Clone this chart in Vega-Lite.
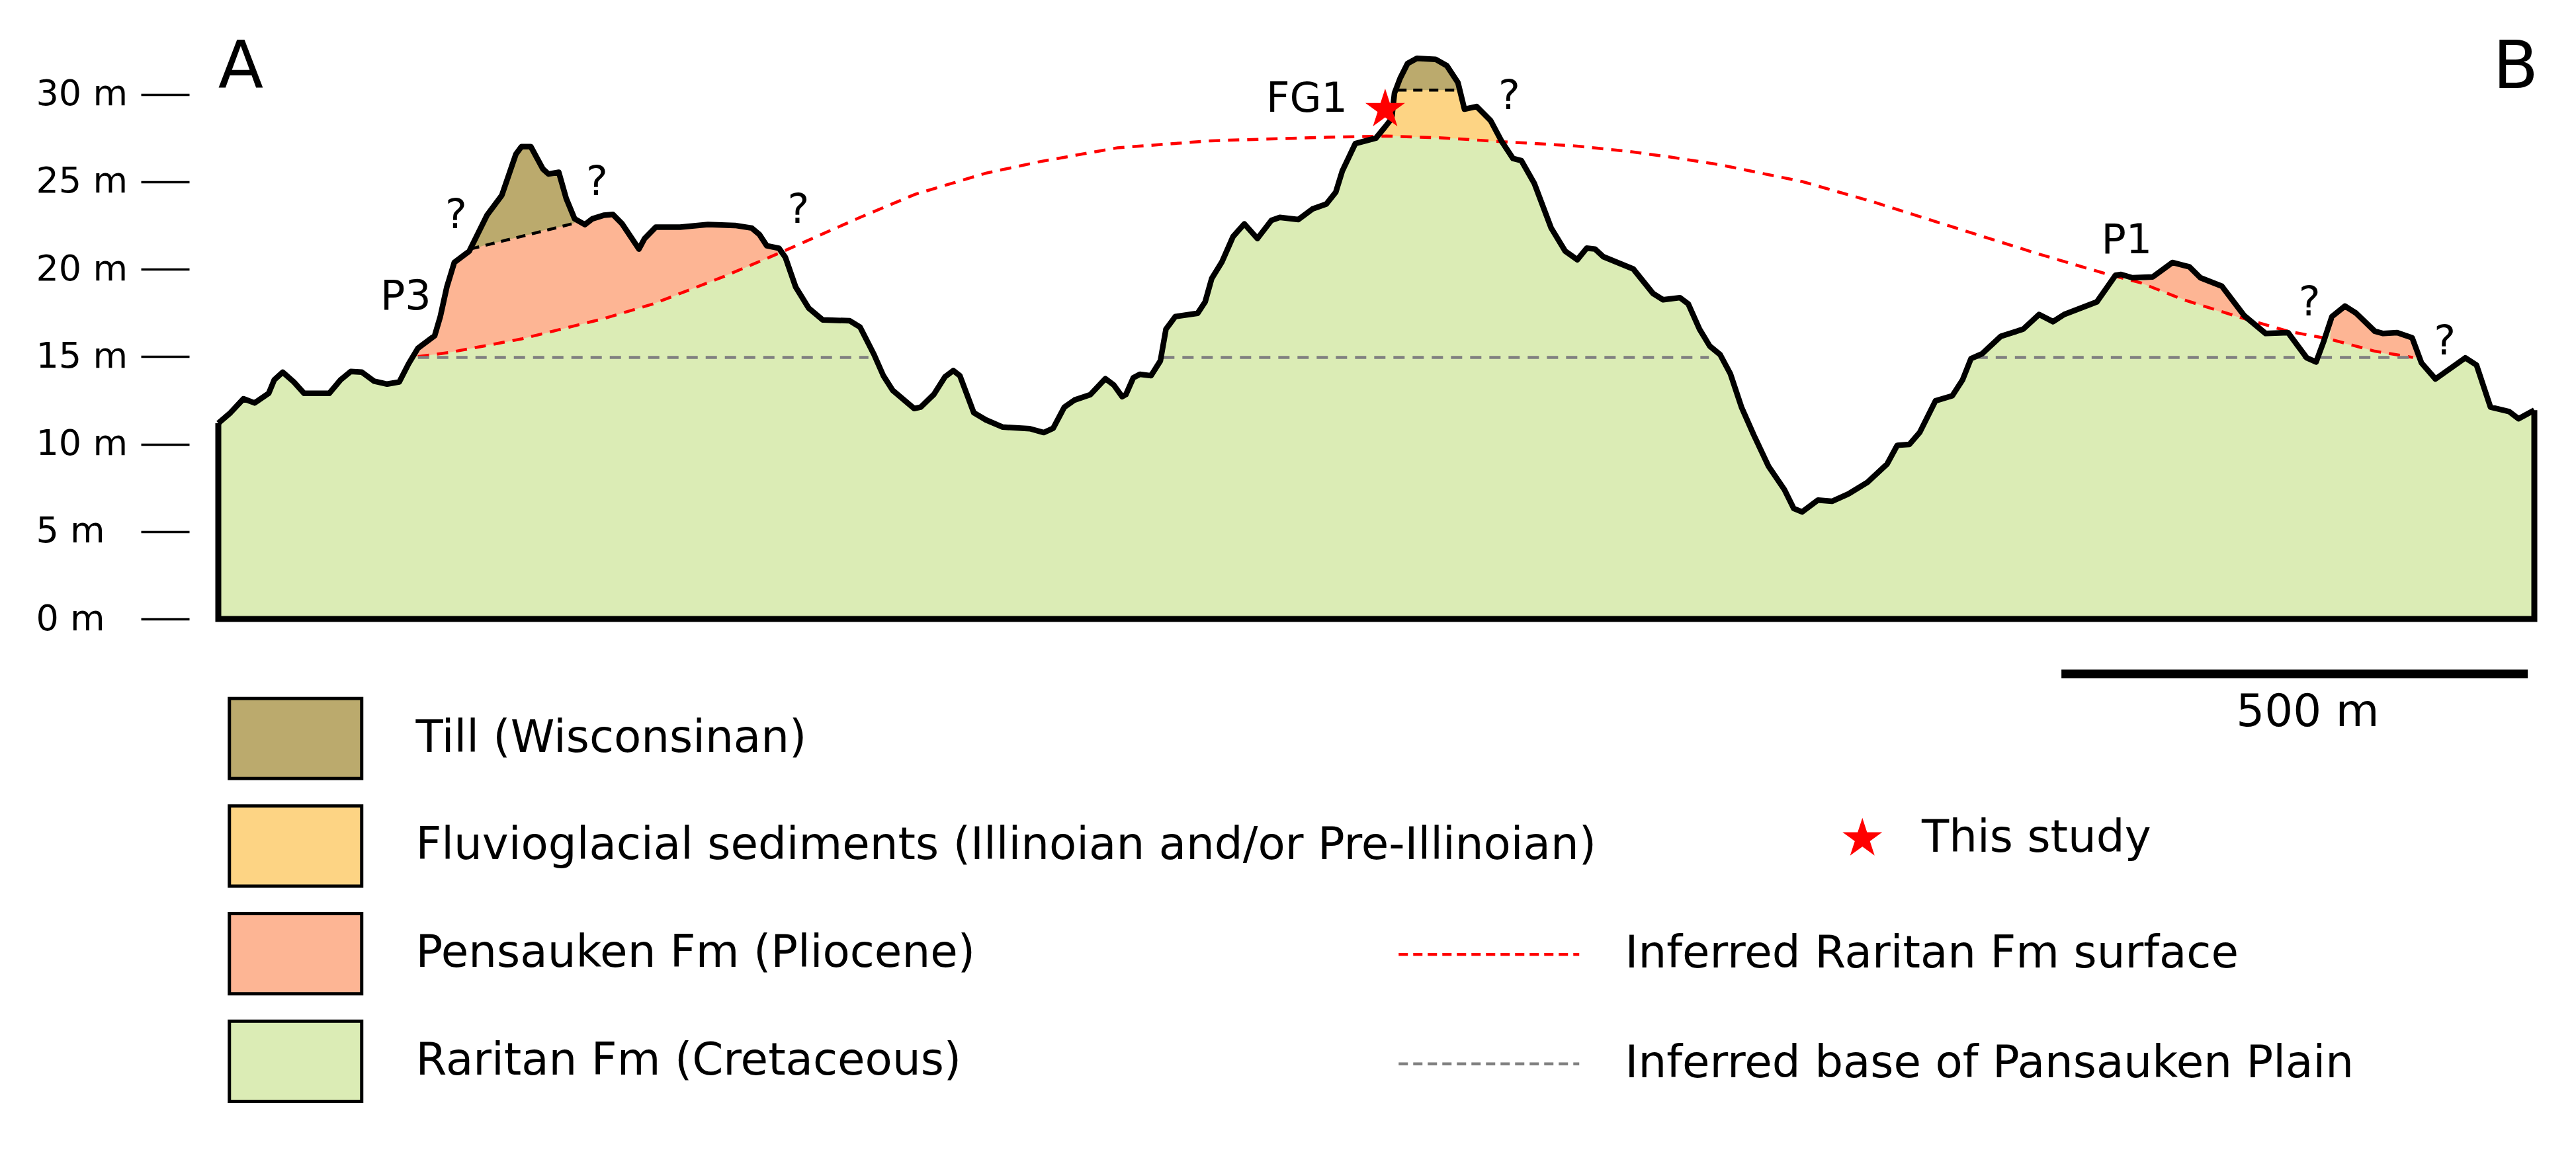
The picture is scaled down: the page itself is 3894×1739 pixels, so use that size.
{"$schema":"https://vega.github.io/schema/vega-lite/v6.json","width":3501,"height":936,"autosize":{"type":"none"},"padding":{"left":330,"top":0,"right":63,"bottom":803},"background":"white","config":{"view":{"stroke":null},"font":"DejaVu Sans"},
"datasets":{
"profile":[{"d":0,"z":11.19},{"d":13,"z":11.79},{"d":27,"z":12.59},{"d":39,"z":12.35},{"d":54,"z":12.9},{"d":60,"z":13.67},{"d":69,"z":14.11},{"d":81,"z":13.55},{"d":92,"z":12.9},{"d":119,"z":12.9},{"d":131,"z":13.67},{"d":142,"z":14.15},{"d":154,"z":14.11},{"d":167,"z":13.6},{"d":181,"z":13.43},{"d":194,"z":13.55},{"d":204,"z":14.59},{"d":214,"z":15.48},{"d":232,"z":16.2},{"d":238,"z":17.29},{"d":245,"z":18.98},{"d":253,"z":20.38},{"d":269,"z":21.03},{"d":288,"z":23.08},{"d":304,"z":24.23},{"d":319,"z":26.57},{"d":325,"z":27.01},{"d":335,"z":27.01},{"d":348,"z":25.73},{"d":354,"z":25.44},{"d":365,"z":25.54},{"d":373,"z":24.04},{"d":382,"z":22.88},{"d":393,"z":22.55},{"d":401,"z":22.88},{"d":413,"z":23.08},{"d":423,"z":23.13},{"d":433,"z":22.59},{"d":451,"z":21.15},{"d":457,"z":21.75},{"d":469,"z":22.4},{"d":495,"z":22.4},{"d":525,"z":22.55},{"d":554,"z":22.5},{"d":572,"z":22.35},{"d":580,"z":21.99},{"d":588,"z":21.34},{"d":601,"z":21.2},{"d":608,"z":20.67},{"d":619,"z":18.98},{"d":633,"z":17.77},{"d":648,"z":17.1},{"d":677,"z":17.05},{"d":688,"z":16.69},{"d":703,"z":15.12},{"d":713,"z":13.91},{"d":723,"z":13.07},{"d":746,"z":12.03},{"d":753,"z":12.11},{"d":767,"z":12.83},{"d":779,"z":13.84},{"d":788,"z":14.2},{"d":795,"z":13.91},{"d":810,"z":11.79},{"d":823,"z":11.38},{"d":841,"z":10.97},{"d":870,"z":10.88},{"d":885,"z":10.66},{"d":895,"z":10.9},{"d":907,"z":12.11},{"d":918,"z":12.52},{"d":935,"z":12.83},{"d":951,"z":13.74},{"d":960,"z":13.38},{"d":969,"z":12.71},{"d":973,"z":12.83},{"d":981,"z":13.79},{"d":988,"z":13.99},{"d":1000,"z":13.91},{"d":1010,"z":14.76},{"d":1016,"z":16.57},{"d":1026,"z":17.29},{"d":1050,"z":17.48},{"d":1058,"z":18.13},{"d":1065,"z":19.46},{"d":1076,"z":20.42},{"d":1088,"z":21.87},{"d":1100,"z":22.59},{"d":1114,"z":21.75},{"d":1129,"z":22.79},{"d":1138,"z":22.96},{"d":1158,"z":22.84},{"d":1173,"z":23.44},{"d":1188,"z":23.73},{"d":1198,"z":24.4},{"d":1205,"z":25.61},{"d":1219,"z":27.18},{"d":1241,"z":27.49},{"d":1251,"z":28.14},{"d":1258,"z":28.62},{"d":1261,"z":30.07},{"d":1267,"z":30.91},{"d":1275,"z":31.76},{"d":1285,"z":32.05},{"d":1305,"z":32},{"d":1317,"z":31.64},{"d":1329,"z":30.67},{"d":1336,"z":29.15},{"d":1349,"z":29.3},{"d":1364,"z":28.5},{"d":1376,"z":27.3},{"d":1388,"z":26.33},{"d":1397,"z":26.21},{"d":1411,"z":24.89},{"d":1429,"z":22.35},{"d":1444,"z":21.03},{"d":1457,"z":20.54},{"d":1467,"z":21.2},{"d":1476,"z":21.15},{"d":1485,"z":20.71},{"d":1517,"z":20.01},{"d":1538,"z":18.62},{"d":1549,"z":18.25},{"d":1567,"z":18.37},{"d":1576,"z":18.01},{"d":1588,"z":16.57},{"d":1599,"z":15.6},{"d":1610,"z":15.12},{"d":1621,"z":14.03},{"d":1633,"z":12.11},{"d":1646,"z":10.54},{"d":1662,"z":8.73},{"d":1679,"z":7.4},{"d":1689,"z":6.32},{"d":1698,"z":6.12},{"d":1715,"z":6.8},{"d":1730,"z":6.73},{"d":1748,"z":7.16},{"d":1768,"z":7.81},{"d":1789,"z":8.85},{"d":1800,"z":9.93},{"d":1813,"z":9.98},{"d":1824,"z":10.66},{"d":1841,"z":12.47},{"d":1859,"z":12.76},{"d":1870,"z":13.67},{"d":1879,"z":14.88},{"d":1891,"z":15.17},{"d":1911,"z":16.16},{"d":1935,"z":16.57},{"d":1952,"z":17.41},{"d":1967,"z":17},{"d":1979,"z":17.41},{"d":2014,"z":18.13},{"d":2034,"z":19.65},{"d":2040,"z":19.7},{"d":2052,"z":19.51},{"d":2074,"z":19.56},{"d":2095,"z":20.38},{"d":2113,"z":20.14},{"d":2125,"z":19.51},{"d":2148,"z":19.03},{"d":2172,"z":17.34},{"d":2195,"z":16.32},{"d":2219,"z":16.37},{"d":2239,"z":14.93},{"d":2249,"z":14.69},{"d":2257,"z":15.84},{"d":2266,"z":17.29},{"d":2280,"z":17.89},{"d":2292,"z":17.48},{"d":2312,"z":16.45},{"d":2321,"z":16.32},{"d":2336,"z":16.37},{"d":2352,"z":16.08},{"d":2362,"z":14.64},{"d":2377,"z":13.72},{"d":2409,"z":14.93},{"d":2421,"z":14.52},{"d":2436,"z":12.11},{"d":2456,"z":11.86},{"d":2466,"z":11.45},{"d":2483,"z":11.94}],
"frame":[{"i":0,"d":0,"z":11.19},{"i":1,"d":0,"z":0},{"i":2,"d":2483,"z":0},{"i":3,"d":2483,"z":11.94}],
"units":[
{"f":"Pensauken Fm (Pliocene)","seg":"a","d":212,"top":15,"base":15},{"f":"Pensauken Fm (Pliocene)","seg":"a","d":214,"top":15.48,"base":15},{"f":"Pensauken Fm (Pliocene)","seg":"a","d":232,"top":16.2,"base":15.12},{"f":"Pensauken Fm (Pliocene)","seg":"a","d":238,"top":17.29,"base":15.17},{"f":"Pensauken Fm (Pliocene)","seg":"a","d":245,"top":18.98,"base":15.22},{"f":"Pensauken Fm (Pliocene)","seg":"a","d":253,"top":20.38,"base":15.29},{"f":"Pensauken Fm (Pliocene)","seg":"a","d":269,"top":21.03,"base":15.45},{"f":"Pensauken Fm (Pliocene)","seg":"a","d":288,"top":23.08,"base":15.64},{"f":"Pensauken Fm (Pliocene)","seg":"a","d":304,"top":24.23,"base":15.8},{"f":"Pensauken Fm (Pliocene)","seg":"a","d":325,"top":27.01,"base":16.01},{"f":"Pensauken Fm (Pliocene)","seg":"a","d":348,"top":25.73,"base":16.31},{"f":"Pensauken Fm (Pliocene)","seg":"a","d":373,"top":24.04,"base":16.64},{"f":"Pensauken Fm (Pliocene)","seg":"a","d":382,"top":22.88,"base":16.76},{"f":"Pensauken Fm (Pliocene)","seg":"a","d":393,"top":22.55,"base":16.9},{"f":"Pensauken Fm (Pliocene)","seg":"a","d":401,"top":22.88,"base":17.01},{"f":"Pensauken Fm (Pliocene)","seg":"a","d":413,"top":23.08,"base":17.17},{"f":"Pensauken Fm (Pliocene)","seg":"a","d":423,"top":23.13,"base":17.33},{"f":"Pensauken Fm (Pliocene)","seg":"a","d":433,"top":22.59,"base":17.49},{"f":"Pensauken Fm (Pliocene)","seg":"a","d":451,"top":21.15,"base":17.77},{"f":"Pensauken Fm (Pliocene)","seg":"a","d":457,"top":21.75,"base":17.87},{"f":"Pensauken Fm (Pliocene)","seg":"a","d":469,"top":22.4,"base":18.07},{"f":"Pensauken Fm (Pliocene)","seg":"a","d":495,"top":22.4,"base":18.6},{"f":"Pensauken Fm (Pliocene)","seg":"a","d":525,"top":22.55,"base":19.23},{"f":"Pensauken Fm (Pliocene)","seg":"a","d":554,"top":22.5,"base":19.85},{"f":"Pensauken Fm (Pliocene)","seg":"a","d":572,"top":22.35,"base":20.25},{"f":"Pensauken Fm (Pliocene)","seg":"a","d":580,"top":21.99,"base":20.43},{"f":"Pensauken Fm (Pliocene)","seg":"a","d":588,"top":21.34,"base":20.62},{"f":"Pensauken Fm (Pliocene)","seg":"a","d":601,"top":21.2,"base":20.91},
{"f":"Pensauken Fm (Pliocene)","seg":"b","d":2061,"top":19.3,"base":19.22},{"f":"Pensauken Fm (Pliocene)","seg":"b","d":2074,"top":19.56,"base":18.95},{"f":"Pensauken Fm (Pliocene)","seg":"b","d":2095,"top":20.38,"base":18.5},{"f":"Pensauken Fm (Pliocene)","seg":"b","d":2113,"top":20.14,"base":18.16},{"f":"Pensauken Fm (Pliocene)","seg":"b","d":2125,"top":19.51,"base":17.95},{"f":"Pensauken Fm (Pliocene)","seg":"b","d":2148,"top":19.03,"base":17.53},{"f":"Pensauken Fm (Pliocene)","seg":"b","d":2172,"top":17.34,"base":17.17},
{"f":"Pensauken Fm (Pliocene)","seg":"c","d":2264,"top":16,"base":16},{"f":"Pensauken Fm (Pliocene)","seg":"c","d":2266,"top":17.29,"base":15.96},{"f":"Pensauken Fm (Pliocene)","seg":"c","d":2280,"top":17.89,"base":15.75},{"f":"Pensauken Fm (Pliocene)","seg":"c","d":2292,"top":17.48,"base":15.6},{"f":"Pensauken Fm (Pliocene)","seg":"c","d":2312,"top":16.45,"base":15.31},{"f":"Pensauken Fm (Pliocene)","seg":"c","d":2321,"top":16.32,"base":15.2},{"f":"Pensauken Fm (Pliocene)","seg":"c","d":2336,"top":16.37,"base":15.05},{"f":"Pensauken Fm (Pliocene)","seg":"c","d":2352,"top":16.08,"base":14.96},{"f":"Pensauken Fm (Pliocene)","seg":"c","d":2359,"top":15,"base":14.95},
{"f":"Fluvioglacial sediments (Illinoian and/or Pre-Illinoian)","seg":"d","d":1245,"top":27.6,"base":27.6},{"f":"Fluvioglacial sediments (Illinoian and/or Pre-Illinoian)","seg":"d","d":1251,"top":28.14,"base":27.61},{"f":"Fluvioglacial sediments (Illinoian and/or Pre-Illinoian)","seg":"d","d":1258,"top":28.62,"base":27.6},{"f":"Fluvioglacial sediments (Illinoian and/or Pre-Illinoian)","seg":"d","d":1261,"top":30.07,"base":27.6},{"f":"Fluvioglacial sediments (Illinoian and/or Pre-Illinoian)","seg":"d","d":1267,"top":30.91,"base":27.59},{"f":"Fluvioglacial sediments (Illinoian and/or Pre-Illinoian)","seg":"d","d":1329,"top":30.67,"base":27.47},{"f":"Fluvioglacial sediments (Illinoian and/or Pre-Illinoian)","seg":"d","d":1336,"top":29.15,"base":27.45},{"f":"Fluvioglacial sediments (Illinoian and/or Pre-Illinoian)","seg":"d","d":1349,"top":29.3,"base":27.4},{"f":"Fluvioglacial sediments (Illinoian and/or Pre-Illinoian)","seg":"d","d":1364,"top":28.5,"base":27.33},{"f":"Fluvioglacial sediments (Illinoian and/or Pre-Illinoian)","seg":"d","d":1376,"top":27.3,"base":27.3},
{"f":"Till (Wisconsinan)","seg":"e","d":269,"top":21.1,"base":21.1},{"f":"Till (Wisconsinan)","seg":"e","d":288,"top":23.08,"base":21.4},{"f":"Till (Wisconsinan)","seg":"e","d":304,"top":24.23,"base":21.6},{"f":"Till (Wisconsinan)","seg":"e","d":319,"top":26.57,"base":21.8},{"f":"Till (Wisconsinan)","seg":"e","d":325,"top":27.01,"base":21.9},{"f":"Till (Wisconsinan)","seg":"e","d":335,"top":27.01,"base":22},{"f":"Till (Wisconsinan)","seg":"e","d":348,"top":25.73,"base":22.2},{"f":"Till (Wisconsinan)","seg":"e","d":354,"top":25.44,"base":22.3},{"f":"Till (Wisconsinan)","seg":"e","d":365,"top":25.54,"base":22.4},{"f":"Till (Wisconsinan)","seg":"e","d":373,"top":24.04,"base":22.5},{"f":"Till (Wisconsinan)","seg":"e","d":382,"top":22.88,"base":22.64},
{"f":"Till (Wisconsinan)","seg":"f","d":1262,"top":30.24,"base":30.24},{"f":"Till (Wisconsinan)","seg":"f","d":1267,"top":30.91,"base":30.24},{"f":"Till (Wisconsinan)","seg":"f","d":1275,"top":31.76,"base":30.24},{"f":"Till (Wisconsinan)","seg":"f","d":1285,"top":32.05,"base":30.24},{"f":"Till (Wisconsinan)","seg":"f","d":1305,"top":32,"base":30.24},{"f":"Till (Wisconsinan)","seg":"f","d":1317,"top":31.64,"base":30.24},{"f":"Till (Wisconsinan)","seg":"f","d":1329,"top":30.67,"base":30.24},{"f":"Till (Wisconsinan)","seg":"f","d":1331,"top":30.24,"base":30.24}],
"inferred":[
{"line":"Inferred Raritan Fm surface","seg":"r","d":214,"z":15},{"line":"Inferred Raritan Fm surface","seg":"r","d":248,"z":15.24},{"line":"Inferred Raritan Fm surface","seg":"r","d":325,"z":16.01},{"line":"Inferred Raritan Fm surface","seg":"r","d":413,"z":17.17},{"line":"Inferred Raritan Fm surface","seg":"r","d":466,"z":18.01},{"line":"Inferred Raritan Fm surface","seg":"r","d":542,"z":19.58},{"line":"Inferred Raritan Fm surface","seg":"r","d":601,"z":20.91},{"line":"Inferred Raritan Fm surface","seg":"r","d":688,"z":22.96},{"line":"Inferred Raritan Fm surface","seg":"r","d":747,"z":24.28},{"line":"Inferred Raritan Fm surface","seg":"r","d":823,"z":25.49},{"line":"Inferred Raritan Fm surface","seg":"r","d":882,"z":26.16},{"line":"Inferred Raritan Fm surface","seg":"r","d":964,"z":26.94},{"line":"Inferred Raritan Fm surface","seg":"r","d":1064,"z":27.34},{"line":"Inferred Raritan Fm surface","seg":"r","d":1188,"z":27.54},{"line":"Inferred Raritan Fm surface","seg":"r","d":1252,"z":27.61},{"line":"Inferred Raritan Fm surface","seg":"r","d":1311,"z":27.51},{"line":"Inferred Raritan Fm surface","seg":"r","d":1373,"z":27.3},{"line":"Inferred Raritan Fm surface","seg":"r","d":1452,"z":27.06},{"line":"Inferred Raritan Fm surface","seg":"r","d":1511,"z":26.74},{"line":"Inferred Raritan Fm surface","seg":"r","d":1558,"z":26.4},{"line":"Inferred Raritan Fm surface","seg":"r","d":1610,"z":25.97},{"line":"Inferred Raritan Fm surface","seg":"r","d":1698,"z":25.01},{"line":"Inferred Raritan Fm surface","seg":"r","d":1774,"z":23.85},{"line":"Inferred Raritan Fm surface","seg":"r","d":1856,"z":22.47},{"line":"Inferred Raritan Fm surface","seg":"r","d":1949,"z":20.91},{"line":"Inferred Raritan Fm surface","seg":"r","d":2026,"z":19.7},{"line":"Inferred Raritan Fm surface","seg":"r","d":2061,"z":19.22},{"line":"Inferred Raritan Fm surface","seg":"r","d":2107,"z":18.25},{"line":"Inferred Raritan Fm surface","seg":"r","d":2172,"z":17.17},{"line":"Inferred Raritan Fm surface","seg":"r","d":2219,"z":16.45},{"line":"Inferred Raritan Fm surface","seg":"r","d":2263,"z":16.01},{"line":"Inferred Raritan Fm surface","seg":"r","d":2312,"z":15.31},{"line":"Inferred Raritan Fm surface","seg":"r","d":2353,"z":14.95},
{"line":"Inferred base of Pansauken Plain","seg":"g1","d":214,"z":14.95},{"line":"Inferred base of Pansauken Plain","seg":"g1","d":697,"z":14.95},{"line":"Inferred base of Pansauken Plain","seg":"g2","d":1013,"z":14.95},{"line":"Inferred base of Pansauken Plain","seg":"g2","d":1598,"z":14.95},{"line":"Inferred base of Pansauken Plain","seg":"g3","d":1885,"z":14.95},{"line":"Inferred base of Pansauken Plain","seg":"g3","d":2240,"z":14.95},{"line":"Inferred base of Pansauken Plain","seg":"g4","d":2254,"z":14.95},{"line":"Inferred base of Pansauken Plain","seg":"g4","d":2353,"z":14.95}],
"contacts":[{"seg":"a","d":270,"z":21.15},{"seg":"a","d":383,"z":22.64},{"seg":"b","d":1264,"z":30.24},{"seg":"b","d":1329,"z":30.24}],
"samples":[{"kind":"This study","d":1251,"z":29.13}],
"bigLabels":[{"t":"A","d":24,"z":31.5},{"t":"B","d":2463,"z":31.5}],
"labels":[{"t":"P3","d":201,"z":18.42},{"t":"FG1","d":1167,"z":29.71},{"t":"P1","d":2046,"z":21.63},{"t":"?","d":255,"z":23.08},{"t":"?","d":406,"z":24.96},{"t":"?","d":622,"z":23.37},{"t":"?","d":1384,"z":29.88},{"t":"?","d":2242,"z":18.09},{"t":"?","d":2387,"z":15.84}],
"scaleLabel":[{"t":"500 m","d":2240,"z":-5.37}],
"scaleBar":[{"d":1976,"d2":2476,"z":-3.14}]
},
"layer":[
{"data":{"name":"profile"},"mark":{"type":"area","opacity":1},"encoding":{
"x":{"field":"d","type":"quantitative","scale":{"domain":[0,2483],"nice":false,"zero":false},"axis":null},
"y":{"field":"z","type":"quantitative","scale":{"domain":[0,35.39],"nice":false},"axis":{"values":[0,5,10,15,20,25,30],"labelExpr":"datum.value + ' m'","title":null,"domain":false,"grid":false,"ticks":true,"tickSize":73,"tickWidth":3.5,"tickColor":"black","offset":44,"labelAlign":"left","labelBaseline":"middle","labelPadding":159,"labelFontSize":54,"labelFont":"DejaVu Sans","labelColor":"black"}},
"y2":{"datum":0},
"fill":{"datum":"Raritan Fm (Cretaceous)","type":"nominal","title":null,"scale":{"domain":["Till (Wisconsinan)","Fluvioglacial sediments (Illinoian and/or Pre-Illinoian)","Pensauken Fm (Pliocene)","Raritan Fm (Cretaceous)"],"range":["#bbaa6d","#fdd484","#fdb594","#dbecb5"]},"legend":{"title":null,"orient":"none","legendX":83,"legendY":1083,"padding":0,"symbolType":"M-5,-3.03H5V3.03H-5Z","symbolSize":1600,"symbolStrokeColor":"black","symbolStrokeWidth":5,"symbolOpacity":1,"labelFontSize":67.5,"labelFont":"DejaVu Sans","labelColor":"black","labelOffset":148,"rowPadding":20.7,"labelLimit":2500}}}},
{"data":{"name":"units"},"mark":{"type":"area","opacity":1},"encoding":{
"x":{"field":"d","type":"quantitative"},"y":{"field":"top","type":"quantitative"},"y2":{"field":"base"},"detail":{"field":"seg"},"fill":{"field":"f","type":"nominal","title":null}}},
{"data":{"name":"inferred"},"mark":{"type":"line","strokeWidth":4.5,"strokeDash":[17,12]},"encoding":{
"x":{"field":"d","type":"quantitative"},"y":{"field":"z","type":"quantitative"},"detail":{"field":"seg"},
"stroke":{"field":"line","type":"nominal","scale":{"domain":["Inferred Raritan Fm surface","Inferred base of Pansauken Plain"],"range":["#ff0000","#808080"]},"legend":{"title":null,"orient":"none","legendX":1887,"legendY":1409.5,"padding":0,"symbolType":"M-5,0H5","symbolSize":2981,"symbolStrokeWidth":4.5,"symbolDash":[14,8],"labelFontSize":67.5,"labelFont":"DejaVu Sans","labelColor":"black","labelOffset":172,"rowPadding":96.5,"labelLimit":2500}}}},
{"data":{"name":"contacts"},"mark":{"type":"line","stroke":"black","strokeWidth":4.5,"strokeDash":[14,10]},"encoding":{"x":{"field":"d","type":"quantitative"},"y":{"field":"z","type":"quantitative"},"detail":{"field":"seg"}}},
{"data":{"name":"frame"},"mark":{"type":"line","stroke":"black","strokeWidth":9,"strokeJoin":"miter"},"encoding":{"x":{"field":"d","type":"quantitative"},"y":{"field":"z","type":"quantitative"},"order":{"field":"i"}}},
{"data":{"name":"profile"},"mark":{"type":"line","stroke":"black","strokeWidth":8.5,"strokeJoin":"round"},"encoding":{"x":{"field":"d","type":"quantitative"},"y":{"field":"z","type":"quantitative"}}},
{"data":{"name":"samples"},"mark":{"type":"point","filled":true,"opacity":1,"size":3970,"fill":"#ff0000"},"encoding":{"x":{"field":"d","type":"quantitative"},"y":{"field":"z","type":"quantitative"},
"shape":{"field":"kind","type":"nominal","scale":{"domain":["This study"],"range":["M0,-1L0.2245,-0.309L0.951,-0.309L0.3633,0.118L0.5878,0.809L0,0.382L-0.5878,0.809L-0.3633,0.118L-0.951,-0.309L-0.2245,-0.309Z"]},"legend":{"title":null,"orient":"none","legendX":2451.5,"legendY":1234.5,"padding":0,"symbolSize":3970,"symbolFillColor":"#ff0000","symbolStrokeWidth":0,"symbolOpacity":1,"labelFontSize":67.5,"labelFont":"DejaVu Sans","labelColor":"black","labelOffset":56,"labelLimit":1000}}}},
{"data":{"name":"labels"},"mark":{"type":"text","font":"DejaVu Sans","fontSize":62,"color":"black","align":"center","baseline":"middle"},"encoding":{"x":{"field":"d","type":"quantitative"},"y":{"field":"z","type":"quantitative"},"text":{"field":"t"}}},
{"data":{"name":"scaleLabel"},"mark":{"type":"text","font":"DejaVu Sans","fontSize":67.5,"color":"black","align":"center","baseline":"middle"},"encoding":{"x":{"field":"d","type":"quantitative"},"y":{"field":"z","type":"quantitative"},"text":{"field":"t"}}},
{"data":{"name":"bigLabels"},"mark":{"type":"text","font":"DejaVu Sans","fontSize":100,"color":"black","align":"center","baseline":"middle"},"encoding":{"x":{"field":"d","type":"quantitative"},"y":{"field":"z","type":"quantitative"},"text":{"field":"t"}}},
{"data":{"name":"scaleBar"},"mark":{"type":"rule","stroke":"black","strokeWidth":13},"encoding":{"x":{"field":"d","type":"quantitative"},"x2":{"field":"d2"},"y":{"field":"z","type":"quantitative"}}}
]}
